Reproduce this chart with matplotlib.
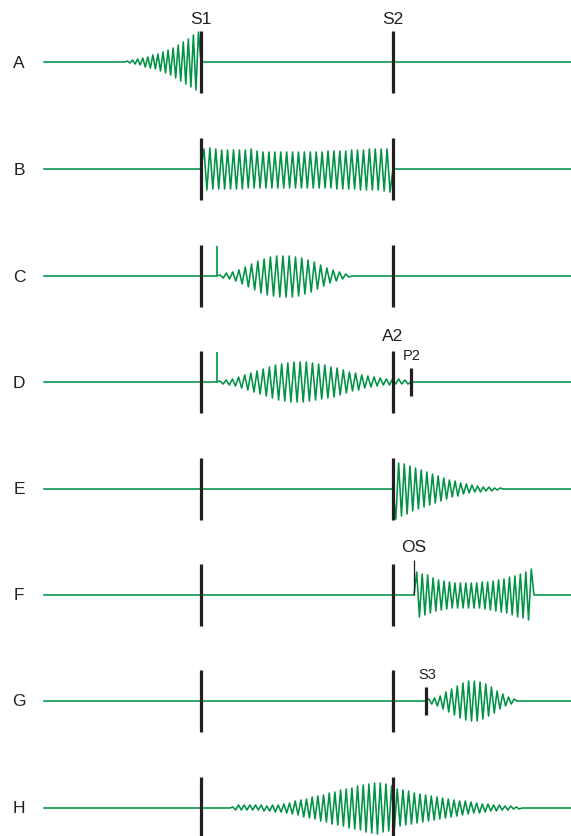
import numpy as np
import matplotlib.pyplot as plt

plt.rcParams['font.family'] = ['Liberation Sans', 'DejaVu Sans']

# rows of the phonocardiogram strip
rows = ['A', 'B', 'C', 'D', 'E', 'F', 'G', 'H']
row_y = [63, 170, 277, 383, 490, 596, 702, 809]
s1_x = 201
s2_x = 393
line_start = 44
line_end = 571

# one murmur per row: onset, offset, first swing (+1 up, -1 down)
murmur_on = [125, 201, 217, 217, 393, 414, 426, 230]
murmur_off = [201, 393, 352, 411, 503, 534, 517, 522]
first_swing = [1, 1, 1, 1, -1, 1, 1, 1]

# peak amplitudes of each murmur
amp_A = [1, 1, 2, 2, 3, 3, 4, 5, 5, 6, 7, 7, 8, 9, 10, 11, 12, 13, 14, 16,
         17, 19, 20, 22, 23, 25, 27, 28, 30]
amp_B = [20, 21, 21, 20, 20, 20, 19, 20, 19, 20, 19, 20, 19, 20, 19, 19,
         20, 19, 18, 19, 17, 19, 17, 19, 17, 19, 17, 19, 17, 19, 17, 19,
         17, 19, 17, 19, 17, 19, 17, 19, 17, 19, 18, 19, 18, 20, 18, 20,
         18, 20, 19, 20, 19, 21, 19, 21, 20, 21, 20, 21, 20, 22, 20, 23]
amp_C = [1, 2, 3, 3, 4, 5, 6, 8, 9, 11, 12, 14, 15, 17, 17, 19, 19, 20, 20,
         21, 20, 21, 20, 21, 19, 20, 18, 18, 16, 16, 14, 13, 11, 10, 8, 7,
         6, 5, 4, 3, 2, 1]
amp_D = [1, 2, 2, 3, 3, 4, 5, 6, 7, 8, 9, 10, 11, 12, 13, 14, 15, 16, 17,
         18, 18, 19, 19, 20, 20, 20,
         20, 20, 20, 19, 19, 18, 18, 17, 17, 16, 15, 15, 14, 13, 12, 11,
         10, 9, 9, 8, 7, 6, 6, 5, 5, 4, 4, 3, 3, 3, 3, 2, 3, 2, 2, 2]
amp_E = [30, 26, 27, 25, 25, 23, 22, 21, 20, 19, 18, 17, 16, 15, 14, 13,
         12, 11, 10, 9, 8, 8, 7, 6, 5, 5, 4, 4, 3, 3, 3, 2, 2, 2, 2, 1, 1, 1]
amp_F = [23, 22, 21, 20, 20, 18, 17, 16, 15, 15, 14, 14, 13, 13, 12, 13,
         12, 13, 12, 13, 12, 13, 12, 13, 13, 14, 13, 15, 14, 16, 15, 17,
         16, 18, 18, 20, 19, 22, 21, 23, 23, 25, 26]
amp_G = [2, 3, 3, 5, 5, 8, 9, 11, 12, 14, 15, 17, 18, 19, 20, 20, 20, 20,
         19, 18, 17, 15, 14, 12, 10, 8, 7, 5, 4, 3, 2]
amp_H = [1, 2, 3, 2, 3, 2, 3, 2, 3, 2, 3, 3, 2, 3, 3, 4, 3, 4,
         4, 5, 5, 6, 7, 7, 8, 9, 9, 10, 11, 11, 12, 13, 13, 14, 15, 16,
         16, 17, 18, 18, 19, 20, 20, 21, 22, 22, 23, 24, 24, 25,
         25, 26, 25, 24, 24, 23, 22, 20,
         19, 18, 18, 17, 17, 16, 15, 15, 14, 14, 13, 13, 12, 12, 11, 11,
         10, 10, 9, 9, 8, 8, 7, 7, 7, 6, 6, 5, 5, 5, 4, 4, 4, 3, 3, 3, 3,
         2, 2, 2, 2, 1, 1, 1]
amps = [amp_A, amp_B, amp_C, amp_D, amp_E, amp_F, amp_G, amp_H]

# extra sounds
click_x = 217          # ejection click, rows C and D
click_rows = [2, 3]
click_h = 30
p2_x = 411
os_x = 414
os_h = 35
s3_x = 426

green = '#009245'
dark = '#231f20'

fig = plt.figure(figsize=(5.71, 8.37), dpi=100)
ax = fig.add_axes([0, 0, 1, 1])
ax.set_xlim(0, 571)
ax.set_ylim(837, 0)
ax.axis('off')

for i, lab in enumerate(rows):
    base = row_y[i]
    a = np.array(amps[i], dtype=float)
    xs = np.linspace(murmur_on[i], murmur_off[i], len(a) + 2)
    signs = first_swing[i] * (-1.0) ** np.arange(len(a))
    ys = np.concatenate([[0], signs * a, [0]])
    x = np.concatenate([[line_start], xs, [line_end]])
    y = np.concatenate([[0], ys, [0]])
    ax.plot(x, base - y, color=green, lw=1.15, zorder=2)

    # S1 / S2 bars
    for sx in (s1_x, s2_x):
        ax.plot([sx, sx], [base - 31, base + 31], color=dark, lw=2.3,
                solid_capstyle='butt', zorder=3)

    ax.text(19, base, lab, fontsize=12.5, color=dark, ha='center', va='center')

for r in click_rows:
    ax.plot([click_x, click_x], [row_y[r], row_y[r] - click_h], color=green,
            lw=1.2, solid_capstyle='butt', zorder=2)

# D: split second sound
ax.plot([p2_x, p2_x], [row_y[3] - 14, row_y[3] + 14], color=dark, lw=2.3,
        solid_capstyle='butt', zorder=3)
ax.text(s2_x, 336, 'A2', fontsize=12.5, color=dark, ha='center', va='center')
ax.text(p2_x + 1, 356, 'P2', fontsize=10.5, color=dark, ha='center', va='center')

# F: opening snap
ax.plot([os_x, os_x], [row_y[5], row_y[5] - os_h], color=dark, lw=0.9,
        solid_capstyle='butt', zorder=3)
ax.text(os_x, 548, 'OS', fontsize=12.5, color=dark, ha='center', va='center')

# G: third sound
ax.plot([s3_x, s3_x], [row_y[6] - 14, row_y[6] + 14], color=dark, lw=2.3,
        solid_capstyle='butt', zorder=3)
ax.text(s3_x + 1, 675, 'S3', fontsize=10.5, color=dark, ha='center', va='center')

ax.text(s1_x, 19, 'S1', fontsize=12.5, color=dark, ha='center', va='center')
ax.text(s2_x, 19, 'S2', fontsize=12.5, color=dark, ha='center', va='center')

fig.savefig('out.png', dpi=100)
